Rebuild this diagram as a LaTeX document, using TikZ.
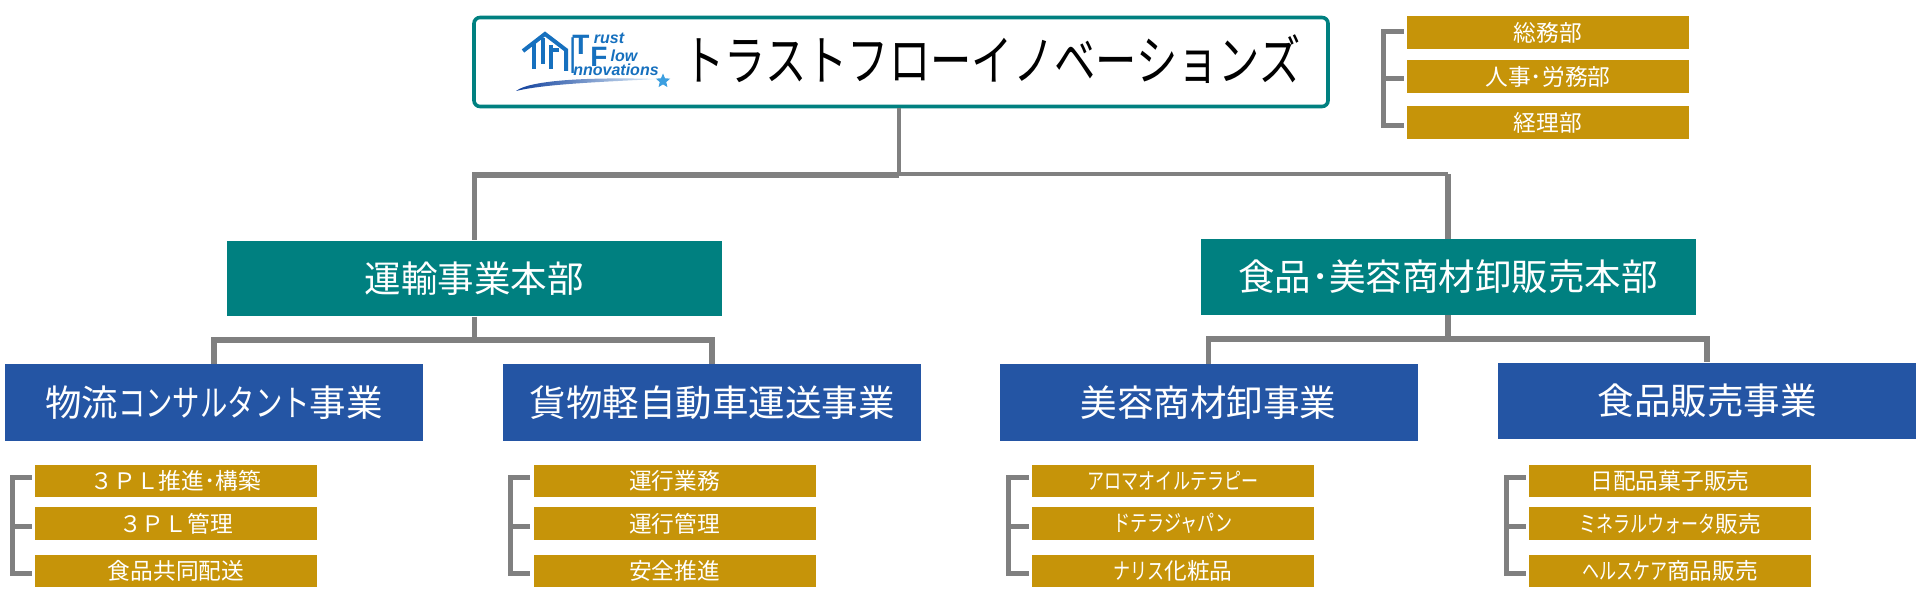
\documentclass[tikz,border=0pt]{standalone}
\usepackage{fontspec}
\usepackage{graphicx}
\setmainfont{Noto Sans CJK JP}
\newfontfamily\logofont{Liberation Sans}
\usetikzlibrary{shapes.geometric}
\definecolor{tealfill}{HTML}{008080}
\definecolor{bluefill}{HTML}{2455A4}
\definecolor{goldfill}{HTML}{C69409}
\definecolor{linegray}{HTML}{808080}
\definecolor{logoblue}{HTML}{1670BE}
\definecolor{logodark}{HTML}{0F3F9C}
\definecolor{logosky}{HTML}{3C9FE0}
\newcommand{\kana}[1]{\scalebox{0.75}[1]{#1}}
\begin{document}
\begin{tikzpicture}[x=0.5pt,y=-0.5pt]
\tikzstyle{topbox}=[draw=tealfill,line width=1.8pt,rounded corners=3pt,fill=white,minimum width=427pt,minimum height=44.5pt,inner sep=0pt]
\tikzstyle{deptbox}=[fill=tealfill,text=white,minimum width=247.5pt,minimum height=37.8pt,inner sep=0pt,font=\fontsize{18.25pt}{20pt}\selectfont]
\tikzstyle{bizbox}=[fill=bluefill,text=white,minimum width=209pt,minimum height=38.2pt,inner sep=0pt,font=\fontsize{18.25pt}{20pt}\selectfont]
\tikzstyle{unitbox}=[fill=goldfill,text=white,minimum width=141pt,minimum height=16.2pt,inner sep=0pt,font=\fontsize{11.35pt}{13pt}\selectfont]
\tikzstyle{link}=[draw=linegray,line width=2.6pt]
\tikzstyle{thinlink}=[draw=linegray,line width=1.8pt]
\tikzstyle{bracket}=[draw=linegray,line width=2.5pt,shorten <=1.5pt,shorten >=1.5pt]
\tikzstyle{logotext}=[text=logoblue,inner sep=0pt,font=\logofont\fontsize{8pt}{9pt}\selectfont\bfseries\itshape]
\tikzstyle{logoline}=[draw=logoblue,line width=2pt]
\useasboundingbox (0,0) rectangle (1920,603);
\node [topbox] at (901,62) (company) {};
\node [inner sep=0pt,font=\fontsize{27pt}{30pt}\selectfont] at (992,59) (title) {\scalebox{0.765}[1]{トラストフローイノベーションズ}};
\draw [logoline] (523,51) -- (545,34) -- (566,50) -- (566,71);
\draw [logoline] (534,43) -- (534,69);
\draw [logoline] (543,38) -- (543,64);
\draw [logoline] (551,45) -- (551,69);
\draw [logoline] (551,50) -- (559,50);
\node [logotext,font=\logofont\fontsize{14pt}{15pt}\selectfont\bfseries] at (581,45) (logot) {T};
\node [logotext] at (609,38) (logorust) {rust};
\node [logotext,font=\logofont\fontsize{14pt}{15pt}\selectfont\bfseries] at (599,57) (logof) {F};
\node [logotext] at (624,56) (logolow) {low};
\node [logotext,font=\logofont\fontsize{26pt}{27pt}\selectfont] at (573,56) (logoi) {\scalebox{0.5}[1]{I}};
\node [logotext] at (616,70) (logoinn) {nnovations};
\shade [left color=logodark,right color=logosky!15] (516,91) .. controls (530,80) and (590,77) .. (657,79) .. controls (600,82) and (545,84) .. (516,91) -- cycle;
\node [star,star points=5,star point ratio=2.2,fill=logosky,minimum size=7.5pt,inner sep=0pt] at (663,81) (logostar) {};
\node [unitbox] at (1548,32.7) (g1) {総務部};
\node [unitbox] at (1548,76.6) (g2) {人事･労務部};
\node [unitbox] at (1548,122.7) (g3) {経理部};
\node [deptbox] at (474.25,278.5) (d1) {運輸事業本部};
\node [deptbox] at (1448,277) (d2) {食品･美容商材卸販売本部};
\node [bizbox] at (214,402.5) (b1) {物流\kana{コンサルタント}事業};
\node [bizbox] at (712,402.5) (b2) {貨物軽自動車運送事業};
\node [bizbox] at (1208.5,402.5) (b3) {美容商材卸事業};
\node [bizbox] at (1707,401) (b4) {食品販売事業};
\node [unitbox] at (176,481) (a1) {３ＰＬ推進･構築};
\node [unitbox] at (176,523.5) (a2) {３ＰＬ管理};
\node [unitbox] at (176,571) (a3) {食品共同配送};
\node [unitbox] at (674.5,481) (c1) {運行業務};
\node [unitbox] at (674.5,523.5) (c2) {運行管理};
\node [unitbox] at (674.5,571) (c3) {安全推進};
\node [unitbox] at (1173,481) (e1) {\kana{アロマオイルテラピー}};
\node [unitbox] at (1173,523.5) (e2) {\kana{ドテラジャパン}};
\node [unitbox] at (1173,571) (e3) {\kana{ナリス}化粧品};
\node [unitbox] at (1670,481) (f1) {日配品菓子販売};
\node [unitbox] at (1670,523.5) (f2) {\kana{ミネラルウォータ}販売};
\node [unitbox] at (1670,571) (f3) {\kana{ヘルスケア}商品販売};
\coordinate (h0) at (899,175);
\coordinate (h1) at (899,174);
\coordinate (h2) at (1448,174);
\coordinate (h3) at (474.25,340);
\coordinate (h4) at (1448,339);
\coordinate (sg) at (1383,79);
\coordinate (sa) at (12,526);
\coordinate (sc) at (510,526);
\coordinate (se) at (1008,526);
\coordinate (sf) at (1506,526);
\draw [thinlink] (h0 |- company.south) -- (h0);
\draw [link] (h0) -| (d1);
\draw [thinlink] (h1) -- (h2);
\draw [link] (h2) -- (d2);
\draw [link] (d1) -- (h3);
\draw [link] (h3) -| (b1);
\draw [link] (h3) -| (b2);
\draw [link] (d2) -- (h4);
\draw [link] (h4) -| (b3);
\draw [link] (h4) -| (b4);
\draw [bracket] ([yshift=0.5pt]g1.west) -| (sg) |- ([yshift=-1.5pt]g3.west);
\draw [bracket,shorten >=0pt] (g2.west |- sg) -- (sg);
\draw [bracket] ([yshift=1.5pt]a1.west) -| (sa) |- ([yshift=-1pt]a3.west);
\draw [bracket,shorten >=0pt] (a2.west |- sa) -- (sa);
\draw [bracket] ([yshift=1.5pt]c1.west) -| (sc) |- ([yshift=-1pt]c3.west);
\draw [bracket,shorten >=0pt] (c2.west |- sc) -- (sc);
\draw [bracket] ([yshift=1.5pt]e1.west) -| (se) |- ([yshift=-1pt]e3.west);
\draw [bracket,shorten >=0pt] (e2.west |- se) -- (se);
\draw [bracket] ([yshift=1.5pt]f1.west) -| (sf) |- ([yshift=-1pt]f3.west);
\draw [bracket,shorten >=0pt] (f2.west |- sf) -- (sf);
\end{tikzpicture}
\end{document}
